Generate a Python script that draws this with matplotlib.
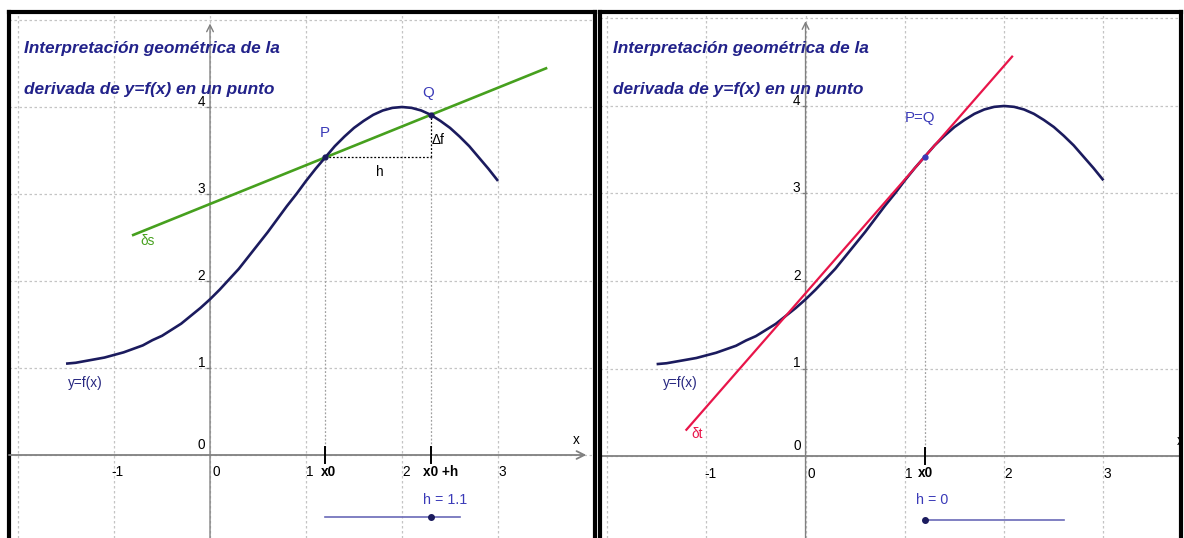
import matplotlib
matplotlib.use("Agg")
import matplotlib.pyplot as plt
from matplotlib import font_manager as fm

# ---------------- data ----------------
curve_x = [-1.5, -1.4, -1.3, -1.2, -1.1, -1.0, -0.9, -0.8, -0.7, -0.6,
           -0.5, -0.4, -0.3, -0.2, -0.1, 0.0, 0.1, 0.2, 0.3, 0.4,
           0.5, 0.6, 0.7, 0.8, 0.9, 1.0, 1.1, 1.2, 1.3, 1.4,
           1.5, 1.6, 1.7, 1.8, 1.9, 2.0, 2.1, 2.2, 2.3, 2.4,
           2.5, 2.6, 2.7, 2.8, 2.9, 3.0]
curve_y = [1.05, 1.06, 1.08, 1.10, 1.12, 1.15, 1.18, 1.22, 1.26, 1.32,
           1.37, 1.44, 1.51, 1.60, 1.69, 1.79, 1.90, 2.02, 2.14, 2.28,
           2.42, 2.56, 2.71, 2.86, 3.00, 3.15, 3.29, 3.42, 3.55, 3.66,
           3.76, 3.84, 3.91, 3.96, 3.99, 4.00, 3.99, 3.96, 3.91, 3.84,
           3.76, 3.66, 3.55, 3.42, 3.29, 3.15]

x0 = 1.2
y_P = 3.42
h_left = 1.1
y_Q = 3.91
h_right = 0.0
h_min, h_max = 0.0, 1.4

secant_x_range = [-0.8, 3.5]
tangent_slope = 1.30
tangent_x_range = [-1.2, 2.08]

x_ticks = [-1, 0, 1, 2, 3]
y_ticks = [0, 1, 2, 3, 4]
grid_x = [-2, -1, 0, 1, 2, 3, 4]
grid_y = [-1, 0, 1, 2, 3, 4, 5]

title_lines = ["Interpretación geométrica de la", "derivada de y=f(x) en un punto"]

# ---------------- styling ----------------
names = {f.name for f in fm.fontManager.ttflist}
NARROW = "Liberation Sans Narrow" in names
FAM = ["Liberation Sans Narrow", "Liberation Sans", "DejaVu Sans"] if NARROW else ["Liberation Sans", "DejaVu Sans"]
TS = 14.8 if NARROW else 12.4
LS = 11.5 if NARROW else 9.8

NAVY = "#1b1b5e"
TITLE_C = "#22228a"
LABEL_BLUE = "#3a3ab8"
GREEN = "#46a01e"
RED = "#e8154a"
GRID_C = "#c4c4c4"
AXIS_C = "#808080"

W, H = 1184, 538
fig = plt.figure(figsize=(W / 100, H / 100), dpi=100)
fig.patch.set_facecolor("white")


def make_axes(left_px, right_px, xlim, ylim):
    ax = fig.add_axes([left_px / W, 0, (right_px - left_px) / W, (H - 12) / H])
    ax.set_xlim(*xlim)
    ax.set_ylim(*ylim)
    for s in ["top", "left", "right"]:
        ax.spines[s].set_color("black")
        ax.spines[s].set_linewidth(3.0)
    ax.spines["bottom"].set_visible(False)
    ax.set_xticks([])
    ax.set_yticks([])
    for gx in grid_x:
        ax.axvline(gx, color=GRID_C, lw=0.9, ls=(0, (2, 2)), zorder=0)
    for gy in grid_y:
        ax.axhline(gy, color=GRID_C, lw=0.9, ls=(0, (2, 2)), zorder=0)
    return ax


def draw_axes_lines(ax, x_arrow_end, y_arrow_end, xlim, ylim, show_x_arrow=True):
    if show_x_arrow:
        ax.annotate("", xy=(x_arrow_end, 0), xytext=(xlim[0], 0),
                    arrowprops=dict(arrowstyle="->", color=AXIS_C, lw=1.3,
                                    shrinkA=0, shrinkB=0, mutation_scale=14))
    else:
        ax.plot([xlim[0], xlim[1] + 0.1], [0, 0], color=AXIS_C, lw=1.3, zorder=1)
    ax.annotate("", xy=(0, y_arrow_end), xytext=(0, ylim[0]),
                arrowprops=dict(arrowstyle="->", color=AXIS_C, lw=1.0,
                                shrinkA=0, shrinkB=0, mutation_scale=12))
    for t in x_ticks:
        dx = 0.06 if t == 0 else 0.04
        ax.text(t + dx, -0.2, str(t), ha="center", va="center", fontsize=LS,
                family=FAM, color="black")
    for t in y_ticks:
        dy = 0.12 if t == 0 else 0.06
        ax.text(-0.05, t + dy, str(t), ha="right", va="center", fontsize=LS,
                family=FAM, color="black")
        if t != 0:
            ax.plot([-0.03, 0], [t, t], color=AXIS_C, lw=1.0)


def draw_title(ax, xf):
    ax.text(xf, 0.930, title_lines[0], transform=ax.transAxes, ha="left", va="center",
            fontsize=TS, family=FAM, fontweight="bold", style="italic", color=TITLE_C)
    ax.text(xf, 0.852, title_lines[1], transform=ax.transAxes, ha="left", va="center",
            fontsize=TS, family=FAM, fontweight="bold", style="italic", color=TITLE_C)


def draw_slider(ax, y, h_val):
    ax.plot([x0 + h_min, x0 + h_max], [y, y], color="#6a6ab8", lw=1.2, zorder=3)
    ax.plot([x0 + h_val], [y], "o", color=NAVY, ms=4, zorder=4)


# ---------------- left panel ----------------
xl1 = (-2.094, 4.005)
yl1 = (-0.954, 5.092)
ax1 = make_axes(9, 594.5, xl1, yl1)
draw_axes_lines(ax1, 3.92, 4.96, xl1, yl1)
draw_title(ax1, 0.026)

ax1.plot(curve_x, curve_y, color=NAVY, lw=1.9, zorder=5, solid_capstyle="butt")

xQ = x0 + h_left
slope_s = (y_Q - y_P) / (xQ - x0)
sx = secant_x_range
sy = [y_P + slope_s * (v - x0) for v in sx]
ax1.plot(sx, sy, color=GREEN, lw=1.9, zorder=4)

ax1.plot([x0, xQ], [y_P, y_P], color="black", lw=0.9, ls=(0, (1.5, 1.5)), zorder=3)
ax1.plot([xQ, xQ], [y_P, y_Q], color="black", lw=0.9, ls=(0, (1.5, 1.5)), zorder=3)
ax1.plot([x0, x0], [0, y_P], color="#a0a0a0", lw=0.9, ls=(0, (1.5, 1.5)), zorder=2)
ax1.plot([xQ, xQ], [0, y_P], color="#a0a0a0", lw=0.9, ls=(0, (1.5, 1.5)), zorder=2)
ax1.plot([x0, xQ], [y_P, y_Q], "o", color=NAVY, ms=3.5, zorder=6)
ax1.plot([x0, x0], [-0.09, 0.09], color="black", lw=1.4, zorder=6)
ax1.plot([xQ, xQ], [-0.09, 0.09], color="black", lw=1.4, zorder=6)

ax1.text(1.2, 3.70, "P", ha="center", va="center", fontsize=LS + 1, family=FAM, color=LABEL_BLUE)
ax1.text(2.27, 4.16, "Q", ha="center", va="center", fontsize=LS + 1, family=FAM, color=LABEL_BLUE)
ax1.text(2.31, 3.62, "Δf", ha="left", va="center", fontsize=LS, family=FAM, color="black")
ax1.text(1.77, 3.25, "h", ha="center", va="center", fontsize=LS, family=FAM, color="black")
ax1.text(-0.65, 2.46, "δs", ha="center", va="center", fontsize=LS, family=FAM, color=GREEN)
ax1.text(-1.3, 0.83, "y=f(x)", ha="center", va="center", fontsize=LS, family=FAM, color="#262680")
ax1.text(1.23, -0.19, "x0", ha="center", va="center", fontsize=LS, family=FAM,
         fontweight="bold", color="black")
ax1.text(2.40, -0.19, "x0 +h", ha="center", va="center", fontsize=LS, family=FAM,
         fontweight="bold", color="black")
ax1.text(2.45, -0.52, f"h = {h_left}", ha="center", va="center", fontsize=LS + 0.5,
         family=FAM, color=LABEL_BLUE)
ax1.text(3.82, 0.17, "x", ha="center", va="center", fontsize=LS, family=FAM, color="black")
draw_slider(ax1, -0.71, h_left)

# ---------------- right panel ----------------
xl2 = (-2.070, 3.781)
yl2 = (-0.937, 5.074)
ax2 = make_axes(600, 1181, xl2, yl2)
draw_axes_lines(ax2, 3.9, 4.97, xl2, yl2, show_x_arrow=False)
draw_title(ax2, 0.022)

ax2.plot(curve_x, curve_y, color=NAVY, lw=1.9, zorder=5, solid_capstyle="butt")
tx = tangent_x_range
ty = [y_P + tangent_slope * (v - x0) for v in tx]
ax2.plot(tx, ty, color=RED, lw=1.6, zorder=6)
ax2.plot([x0, x0], [0, y_P], color="#a0a0a0", lw=0.9, ls=(0, (1.5, 1.5)), zorder=2)
ax2.plot([x0 + h_right], [y_P], "o", color=LABEL_BLUE, ms=3.5, zorder=7)
ax2.plot([x0, x0], [-0.09, 0.09], color="black", lw=1.4, zorder=6)

ax2.text(1.15, 3.86, "P=Q", ha="center", va="center", fontsize=LS + 1, family=FAM, color=LABEL_BLUE)
ax2.text(-1.09, 0.25, "δt", ha="center", va="center", fontsize=LS, family=FAM, color=RED)
ax2.text(-1.26, 0.83, "y=f(x)", ha="center", va="center", fontsize=LS, family=FAM, color="#262680")
ax2.text(1.21, -0.19, "x0", ha="center", va="center", fontsize=LS, family=FAM,
         fontweight="bold", color="black")
ax2.text(1.27, -0.50, "h = 0", ha="center", va="center", fontsize=LS + 0.5,
         family=FAM, color=LABEL_BLUE)
ax2.text(3.77, 0.17, "x", ha="center", va="center", fontsize=LS, family=FAM,
         color="black", clip_on=True)
draw_slider(ax2, -0.73, h_right)

fig.savefig("out.png", dpi=100)
